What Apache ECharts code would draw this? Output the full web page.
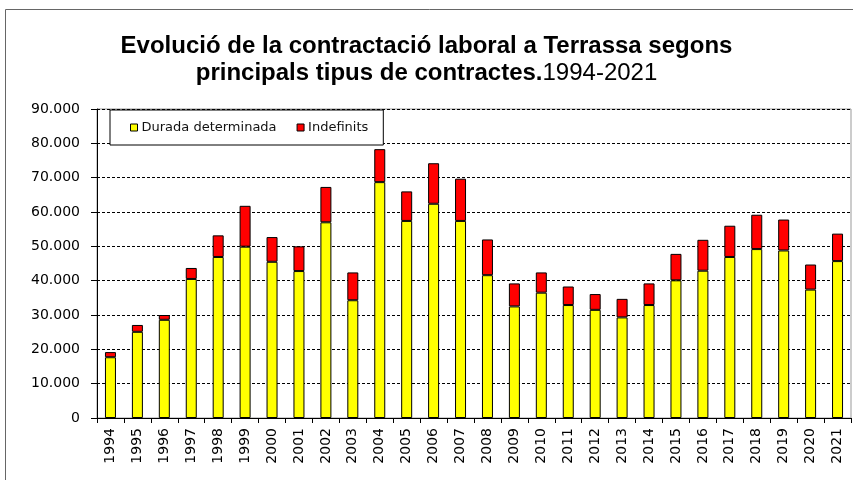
<!DOCTYPE html>
<html>
<head>
<meta charset="utf-8">
<script src="https://cdn.jsdelivr.net/npm/echarts@6/dist/echarts.min.js"></script>
<style>
  html, body { margin: 0; padding: 0; background: #fff; }
  #main { width: 853px; height: 480px; }
</style>
</head>
<body>
<div id="main"></div>
<script>
// anys
var years = ["1994", "1995", "1996", "1997", "1998", "1999", "2000", "2001", "2002", "2003",
  "2004", "2005", "2006", "2007", "2008", "2009", "2010", "2011", "2012", "2013",
  "2014", "2015", "2016", "2017", "2018", "2019", "2020", "2021"];

// contractes de durada determinada
var durada = [17700, 25100, 28600, 40500, 46900, 49900, 45500, 42800, 57000, 34300,
  68700, 57400, 62400, 57400, 41600, 32500, 36500, 32900, 31500, 29300,
  32900, 40100, 42900, 46900, 49200, 48800, 37400, 45700];

// contractes indefinits
var indefinits = [1500, 2000, 1400, 3200, 6300, 11900, 7200, 7200, 10300, 8100,
  9600, 8600, 11800, 12300, 10400, 6700, 5900, 5400, 4600, 5400,
  6300, 7700, 9000, 9100, 10000, 9000, 7300, 8000];

var yTicks = [0, 10000, 20000, 30000, 40000, 50000, 60000, 70000, 80000, 90000];

function fmt(v) {
  // separador de milers amb punt
  return String(v).replace(/\B(?=(\d{3})+(?!\d))/g, ".");
}

var myChart = echarts.init(document.getElementById("main"));

myChart.setOption({
  animation: false,
  textStyle: { fontFamily: "Liberation Sans" },
  title: {
    text: "{b|Evolució de la contractació laboral a Terrassa segons}\n{b|principals tipus de contractes.}{n|1994-2021}",
    left: "center",
    top: 33,
    padding: 0,
    textStyle: {
      rich: {
        b: { fontSize: 24, fontWeight: "bold", color: "#000", lineHeight: 27, fontFamily: "Liberation Sans" },
        n: { fontSize: 24, fontWeight: "normal", color: "#000", lineHeight: 27, fontFamily: "Liberation Sans" }
      }
    }
  },
  graphic: [
    {
      type: "rect",
      shape: { x: 5.5, y: 9.5, width: 900, height: 500 },
      style: { fill: "none", stroke: "#666", lineWidth: 1 },
      silent: true
    }
  ],
  legend: {
    left: 110,
    top: 110,
    itemWidth: 7,
    itemHeight: 7,
    itemGap: 20,
    padding: [11, 15, 11, 20],
    backgroundColor: "#fff",
    borderColor: "#000",
    borderWidth: 1,
    icon: "rect",
    textStyle: { fontSize: 13, color: "#111", fontFamily: "DejaVu Sans", padding: [0, 0, 0, -1] },
    data: [
      { name: "Durada determinada", itemStyle: { borderColor: "#000", borderWidth: 1 } },
      { name: "Indefinits", itemStyle: { borderColor: "#000", borderWidth: 1 } }
    ],
    z: 10
  },
  grid: {
    left: 97,
    right: 2,
    top: 109,
    bottom: 62,
    show: true,
    borderColor: "#999",
    borderWidth: 1
  },
  xAxis: {
    type: "category",
    data: years,
    axisLine: { lineStyle: { color: "#000" } },
    axisTick: { show: true, lineStyle: { color: "#000" }, length: 5 },
    axisLabel: {
      rotate: 90,
      interval: 0,
      color: "#000",
      fontSize: 14,
      fontFamily: "DejaVu Sans",
      margin: 10
    }
  },
  yAxis: {
    type: "value",
    min: 0,
    max: 90000,
    interval: 10000,
    axisLine: { show: true, lineStyle: { color: "#000" } },
    axisTick: { show: true, lineStyle: { color: "#000" }, length: 6 },
    axisLabel: {
      color: "#000",
      fontSize: 14,
      fontFamily: "DejaVu Sans",
      margin: 17,
      formatter: function (v) { return fmt(v); }
    },
    splitLine: {
      show: true,
      lineStyle: { color: "#000", type: [3, 2], width: 1 }
    }
  },
  series: [
    {
      name: "Durada determinada",
      type: "bar",
      stack: "total",
      barWidth: 11,
      data: durada,
      itemStyle: { color: "#ffff00", borderColor: "#000", borderWidth: 1 }
    },
    {
      name: "Indefinits",
      type: "bar",
      stack: "total",
      barWidth: 11,
      data: indefinits,
      itemStyle: { color: "#ff0000", borderColor: "#000", borderWidth: 1 }
    }
  ]
});
</script>
</body>
</html>
